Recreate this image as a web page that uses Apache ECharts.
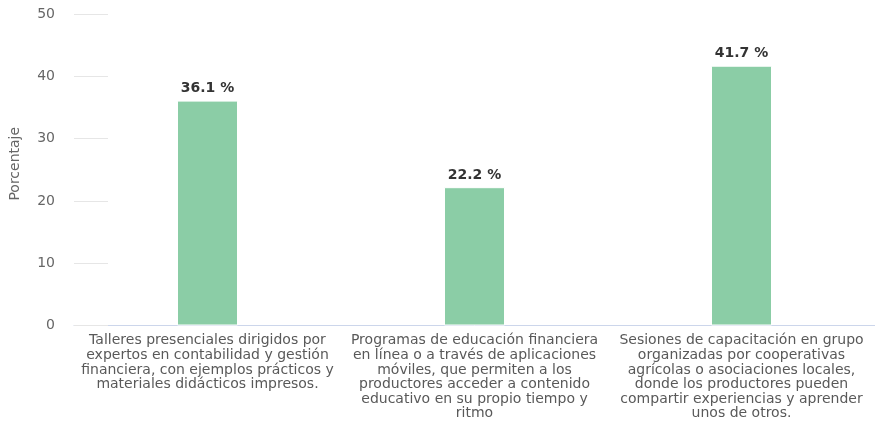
<!DOCTYPE html>
<html>
<head>
<meta charset="utf-8">
<script src="https://cdn.jsdelivr.net/npm/echarts@6/dist/echarts.min.js"></script>
<style>
  html, body { margin: 0; padding: 0; background: #fff; }
  #chart { width: 875px; height: 440px; }
</style>
</head>
<body>
<div id="chart"></div>
<script>
const categories = [
  'Talleres presenciales dirigidos por\nexpertos en contabilidad y gestión\nfinanciera, con ejemplos prácticos y\nmateriales didácticos impresos.',
  'Programas de educación financiera\nen línea o a través de aplicaciones\nmóviles, que permiten a los\nproductores acceder a contenido\neducativo en su propio tiempo y\nritmo',
  'Sesiones de capacitación en grupo\norganizadas por cooperativas\nagrícolas o asociaciones locales,\ndonde los productores pueden\ncompartir experiencias y aprender\nunos de otros.'
]
const porcentajes = [36.1, 22.2, 41.7]
const yTicks = [0, 10, 20, 30, 40, 50]

const chart = echarts.init(document.getElementById('chart'))

chart.setOption({
  backgroundColor: '#fff',
  textStyle: { fontFamily: 'DejaVu Sans' },
  grid: { left: 71, top: 14, width: 815, height: 311.5 },
  xAxis: {
    type: 'category',
    data: categories,
    axisLine: { lineStyle: { color: '#ccd6eb' } },
    axisTick: { show: false },
    axisLabel: {
      color: '#595959',
      fontSize: 14,
      lineHeight: 14.6,
      margin: 8,
      interval: 0,
      align: 'center'
    }
  },
  yAxis: {
    type: 'value',
    min: yTicks[0],
    max: yTicks[yTicks.length - 1],
    interval: 10,
    name: 'Porcentaje',
    nameLocation: 'middle',
    nameGap: 52,
    nameTextStyle: { color: '#666', fontSize: 14, padding: [0, 0, 0, 12] },
    axisLine: { show: false },
    axisTick: { show: true, inside: true, length: 34, lineStyle: { color: '#e6e6e6' } },
    splitLine: { show: false },
    axisLabel: { color: '#666', fontSize: 14, margin: 19 }
  },
  series: [
    {
      type: 'bar',
      data: porcentajes,
      barWidth: 61,
      itemStyle: { color: '#8bcda6', borderColor: '#fff', borderWidth: 1 },
      label: {
        show: true,
        position: 'top',
        distance: 5,
        formatter: p => p.value + ' %',
        color: '#333',
        fontWeight: 'bold',
        fontSize: 14
      }
    }
  ]
})
</script>
</body>
</html>
